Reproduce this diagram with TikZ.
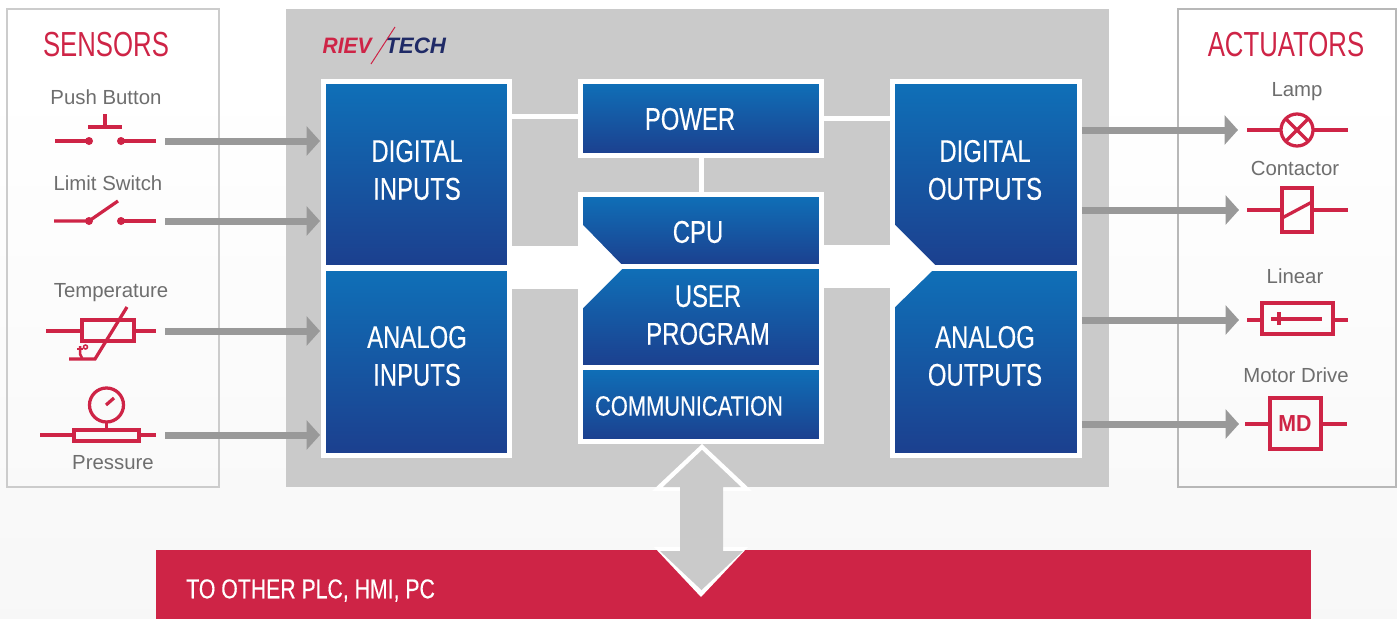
\documentclass[tikz,border=0pt]{standalone}
\usepackage{fontspec}
\setmainfont{Liberation Sans}
\newfontface\blockface[FakeBold=.3]{Liberation Sans}
\usetikzlibrary{arrows.meta}
\definecolor{plcred}{HTML}{CE2446}
\definecolor{plcgray}{HTML}{CACACA}
\definecolor{arrowgray}{HTML}{999999}
\definecolor{labelgray}{HTML}{6E6E6E}
\definecolor{logoblue}{HTML}{1F2A66}
\definecolor{bluetop}{HTML}{0F70B8}
\definecolor{bluemid}{HTML}{2260A8}
\definecolor{bluebot}{HTML}{1C3F8E}
\tikzset{
  block/.style={draw=white,line width=.1cm,top color=bluetop,middle color=bluemid,bottom color=bluebot,inner sep=0pt},
  blocktext/.style={text=white,align=center,inner sep=0pt,transform shape,xscale=.76,font=\fontsize{17.9}{21.5}\selectfont\blockface},
  heading/.style={text=plcred,inner sep=0pt,transform shape,xscale=.74,font=\fontsize{19.8}{24}\selectfont},
  devicelabel/.style={text=labelgray,inner sep=0pt,anchor=base,font=\fontsize{11.6}{14}\selectfont},
  symline/.style={draw=plcred,line width=.065cm},
  signal/.style={draw=arrowgray,line width=.14cm,-{Triangle[length=.27cm,width=.58cm]}},
  wirelink/.style={draw=white,line width=.1cm},
  buslink/.style={draw=white,line width=.86cm},
}
\begin{document}
\begin{tikzpicture}[x=0.02cm,y=-0.02cm]
\useasboundingbox (0,0) rectangle (1397,619);
\shade [top color=white,bottom color=white!97!black] (0,80) rectangle (1397,619);
\draw [draw=black!20,line width=.03cm] (7,9) rectangle (219,487);
\draw [draw=black!28,line width=.03cm] (1178,9) rectangle (1396,487);
\fill [plcgray] (286,9) rectangle (1109,487);
\fill [plcred] (156,550) rectangle (1311,619);
\node (sensorshead) [heading] at (106,45) {SENSORS};
\node (actuatorshead) [heading] at (1286,45) {ACTUATORS};
\node (logoleft) [text=plcred,inner sep=0pt,anchor=east,transform shape,xscale=.94,font=\fontsize{12.7}{15}\selectfont\bfseries\itshape] at (372,46) {RIEV};
\node (logoright) [text=logoblue,inner sep=0pt,anchor=west,font=\fontsize{12.7}{15}\selectfont\bfseries\itshape] at (385,46) {TECH};
\draw [plcred,line width=.02cm] (395,27) -- (371,64);
\node (dinputs) [block,minimum width=3.72cm,minimum height=3.73cm] at (416.5,174.75) {};
\node (ainputs) [block,minimum width=3.72cm,minimum height=3.75cm] at (416.5,361.75) {};
\node (doutputs) [block,minimum width=3.74cm,minimum height=3.73cm] at (986,174.75) {};
\node (aoutputs) [block,minimum width=3.74cm,minimum height=3.75cm] at (986,361.75) {};
\node (power) [block,minimum width=4.82cm,minimum height=1.48cm] at (701,118.5) {};
\node (cpu) [block,minimum width=4.82cm,minimum height=1.44cm] at (701,230.5) {};
\node (userprog) [block,minimum width=4.82cm,minimum height=2.02cm] at (701,317) {};
\node (comm) [block,minimum width=4.82cm,minimum height=1.48cm] at (701,404.5) {};
\coordinate (leftbus) at (545,267.5);
\coordinate (rightbus) at (857,266.5);
\draw [wirelink] ([yshift=.04cm]power.west) -- ([yshift=.04cm]power.west -| dinputs.east);
\draw [wirelink] (power.east) -- (power.east -| doutputs.west);
\draw [wirelink] (power.south) -- (cpu.north);
\draw [buslink] (leftbus -| dinputs.east) -- (leftbus -| cpu.west);
\draw [buslink] (rightbus -| cpu.east) -- (rightbus -| doutputs.west);
\fill [white] (583,225) -- (622,265) -- (575,265) -- cycle;
\fill [white] (583,308) -- (622,269) -- (575,269) -- cycle;
\fill [white] (895,225) -- (935,265) -- (890,265) -- cycle;
\fill [white] (895,307) -- (932,271) -- (890,271) -- cycle;
\fill [white] (935,265) rectangle (890,271);
\fill [white] (622,265) rectangle (575,269);
\node (dinputstext) [blocktext] at (417,170) {DIGITAL\\INPUTS};
\node (ainputstext) [blocktext] at (417,356) {ANALOG\\INPUTS};
\node (doutputstext) [blocktext] at (985,170) {DIGITAL\\OUTPUTS};
\node (aoutputstext) [blocktext] at (985,356) {ANALOG\\OUTPUTS};
\node (powertext) [blocktext] at (690,119) {POWER};
\node (cputext) [blocktext] at (698,232) {CPU};
\node (userprogtext) [blocktext] at (708,315) {USER\\PROGRAM};
\node (commtext) [blocktext,xscale=1.03,font=\fontsize{15.9}{19}\selectfont\blockface] at (689,406) {COMMUNICATION};
\node (bartext) [text=white,inner sep=0pt,anchor=west,transform shape,xscale=.78,font=\fontsize{15.5}{19}\selectfont\blockface] at (186,590.5) {TO OTHER PLC, HMI, PC};
\fill [white] (702,444) -- (752,491) -- (723,491) -- (723,547) -- (748,547) -- (701,597) -- (654,547) -- (680,547) -- (680,491) -- (652,491) -- cycle;
\fill [plcgray] (702,450) -- (741,487) -- (723,487) -- (723,551) -- (743,551) -- (701.5,590) -- (660,551) -- (680,551) -- (680,487) -- (663,487) -- cycle;
\node (pushlabel) [devicelabel] at (106,104) {Push Button};
\node (limitlabel) [devicelabel] at (108,190) {Limit Switch};
\node (templabel) [devicelabel] at (111,297) {Temperature};
\node (presslabel) [devicelabel] at (113,469) {Pressure};
\node (lamplabel) [devicelabel] at (1297,96) {Lamp};
\node (contactlabel) [devicelabel] at (1295,175) {Contactor};
\node (linearlabel) [devicelabel] at (1295,283) {Linear};
\node (motorlabel) [devicelabel] at (1296,382) {Motor Drive};
\draw [symline] (55,141) -- (89,141);
\draw [symline] (121,141) -- (156,141);
\draw [symline] (88,127) -- (122,127);
\draw [symline] (105,114) -- (105,127);
\fill [plcred] (89,141) circle (4);
\fill [plcred] (121,141) circle (4);
\draw [symline] (54,221) -- (89,221) -- (118,201);
\draw [symline] (121,221) -- (156,221);
\fill [plcred] (89,221) circle (4);
\fill [plcred] (121,221) circle (4);
\draw [symline] (46,331) -- (82,331);
\draw [symline] (134,331) -- (156,331);
\draw [symline] (82,320) rectangle (134,341);
\draw [symline] (127,307) -- (95,359) -- (69,359);
\draw [plcred,line width=.05cm] (80,346) -- (80,354) -- (82,358);
\draw [plcred,line width=.04cm] (77,349) -- (83,349);
\draw [plcred,line width=.03cm] (85.5,347) circle (2);
\draw [symline] (40,435) -- (74,435);
\draw [symline] (139,435) -- (156,435);
\draw [symline] (74,430) rectangle (139,441);
\draw [symline] (106.5,422) -- (106.5,430);
\draw [symline] (106.5,405) circle (17);
\draw [symline] (106,405) -- (114,398);
\draw [symline] (1247,130) -- (1281,130);
\draw [symline] (1313,130) -- (1348,130);
\draw [symline] (1297,130) circle (16);
\draw [symline] (1285.7,118.7) -- (1308.3,141.3);
\draw [symline] (1285.7,141.3) -- (1308.3,118.7);
\draw [symline] (1247,210) -- (1282,210);
\draw [symline] (1312,210) -- (1348,210);
\draw [symline] (1282,188) rectangle (1312,232);
\draw [symline] (1282,218) -- (1312,202);
\draw [symline] (1247,320) -- (1262,320);
\draw [symline] (1333,320) -- (1348,320);
\draw [symline] (1262,303) rectangle (1333,334);
\draw [symline] (1271,319) -- (1322,319);
\draw [symline] (1279,312) -- (1279,325);
\draw [symline] (1245,424) -- (1270,424);
\draw [symline] (1321,424) -- (1347,424);
\draw [symline] (1270,398) rectangle (1321,449);
\node (mdtext) [text=plcred,inner sep=0pt,transform shape,xscale=.92,font=\fontsize{13.2}{16}\selectfont\bfseries] at (1295,424) {MD};
\coordinate (pushout) at (165,141);
\coordinate (limitout) at (165,221);
\coordinate (tempout) at (165,331);
\coordinate (pressout) at (165,435);
\coordinate (lampin) at (1238,130);
\coordinate (contactin) at (1239,210);
\coordinate (linearin) at (1239,320);
\coordinate (motorin) at (1239,424);
\draw [signal,shorten >=.02cm] (pushout) -- (pushout -| dinputs.west);
\draw [signal,shorten >=.02cm] (limitout) -- (limitout -| dinputs.west);
\draw [signal,shorten >=.02cm] (tempout) -- (tempout -| ainputs.west);
\draw [signal,shorten >=.02cm] (pressout) -- (pressout -| ainputs.west);
\draw [signal] (lampin -| doutputs.east) -- (lampin);
\draw [signal] (contactin -| doutputs.east) -- (contactin);
\draw [signal] (linearin -| aoutputs.east) -- (linearin);
\draw [signal] (motorin -| aoutputs.east) -- (motorin);
\end{tikzpicture}
\end{document}
